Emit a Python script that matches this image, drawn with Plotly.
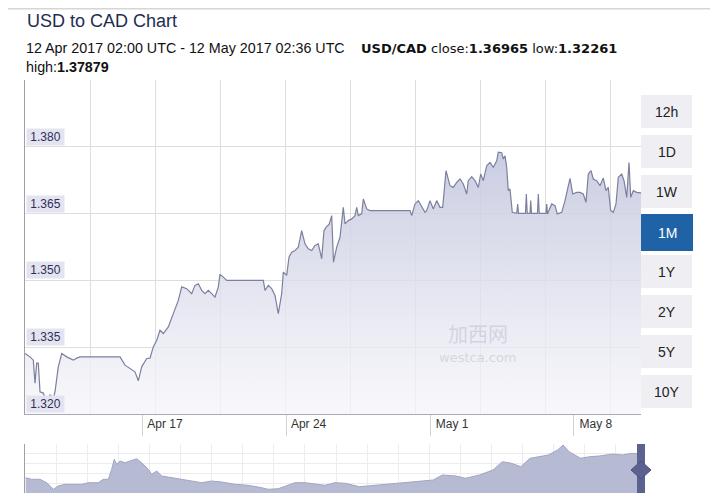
import pandas as pd
import plotly.graph_objects as go

# ---------------- data ----------------
START = pd.Timestamp("2017-04-12 02:00")
END = pd.Timestamp("2017-05-12 02:36")

hours = [0, 5.85, 9.71, 11.70, 13.69, 15.56, 17.55, 21.41, 25.39, 29.25,
         33.11, 35.09, 38.95, 42.93, 48.78, 56.50, 60.48, 64.34, 87.74, 111.13,
         116.98, 122.83, 128.68, 132.54, 136.52, 142.36, 146.23, 150.09, 154.06, 157.92,
         161.78, 167.63, 171.61, 175.47, 179.33, 183.31, 189.16, 195.01, 198.87, 202.73,
         206.71, 210.57, 214.43, 218.41, 222.26, 226.12, 228.11, 231.97, 235.95, 257.36,
         278.76, 280.75, 284.61, 288.59, 292.45, 296.31, 300.29, 302.16, 306.14, 308.83,
         311.99, 315.85, 319.71, 323.69, 327.55, 331.41, 335.39, 339.24, 343.10, 347.08,
         349.77, 352.70, 355.62, 358.78, 360.89, 364.63, 368.49, 372.35, 374.34, 378.20,
         382.18, 386.04, 388.03, 389.90, 393.88, 395.75, 399.73, 403.58, 426.98, 450.38,
         452.37, 456.23, 460.09, 464.07, 467.92, 469.91, 473.77, 477.63, 481.61, 485.47,
         488.63, 492.49, 497.17, 501.03, 505.01, 508.87, 512.73, 516.71, 518.58, 522.56,
         526.41, 530.28, 533.08, 536.13, 540.10, 543.96, 547.82, 551.80, 553.67, 557.65,
         559.52, 561.51, 563.50, 565.37, 567.36, 570.05, 575.20, 576.37, 577.30, 585.49,
         586.43, 587.48, 590.76, 591.58, 592.51, 599.53, 600.47, 601.52, 609.48, 610.30,
         611.24, 616.15, 620.01, 622.70, 627.85, 631.70, 634.39, 637.55, 640.71, 645.39,
         649.25, 653.11, 656.27, 658.96, 662.12, 664.81, 668.79, 672.64, 676.50, 679.66,
         682.35, 685.15, 688.20, 691.36, 694.05, 698.03, 700.72, 703.88, 706.57, 708.56,
         711.60, 715.58, 720.60]

rates = [1.33359, 1.33283, 1.33209, 1.32694, 1.33142, 1.33142, 1.32499, 1.32470, 1.32269, 1.32425,
         1.32358, 1.32499, 1.33059, 1.33359, 1.33283, 1.33209, 1.33254, 1.33283, 1.33283, 1.33283,
         1.33097, 1.33030, 1.32947, 1.32746, 1.33059, 1.33247, 1.33254, 1.33507, 1.33657, 1.33881,
         1.33807, 1.33954, 1.34143, 1.34328, 1.34552, 1.34854, 1.34814, 1.34702, 1.34888, 1.34926,
         1.34776, 1.34702, 1.34776, 1.34702, 1.34626, 1.34850, 1.35134, 1.35074, 1.35000, 1.35000,
         1.35000, 1.34776, 1.34888, 1.34814, 1.34664, 1.34254, 1.34702, 1.35186, 1.35112, 1.35522,
         1.35634, 1.35672, 1.35746, 1.36119, 1.35822, 1.35710, 1.35672, 1.35784, 1.35822, 1.35486,
         1.36119, 1.36209, 1.36254, 1.36455, 1.35410, 1.35746, 1.35969, 1.36641, 1.36269, 1.36343,
         1.36381, 1.36455, 1.36641, 1.36455, 1.36493, 1.36829, 1.36605, 1.36567, 1.36567, 1.36567,
         1.36455, 1.36717, 1.36791, 1.36641, 1.36529, 1.36567, 1.36791, 1.36605, 1.36791, 1.36641,
         1.36641, 1.37463, 1.37127, 1.37089, 1.37201, 1.37277, 1.37165, 1.36941, 1.37239, 1.37328,
         1.37239, 1.37089, 1.37389, 1.37239, 1.37575, 1.37649, 1.37537, 1.37687, 1.37877, 1.37866,
         1.37725, 1.37798, 1.37537, 1.37015, 1.37053, 1.36529, 1.36507, 1.36717, 1.36507, 1.36507,
         1.36941, 1.36507, 1.36507, 1.36791, 1.36507, 1.36507, 1.36941, 1.36507, 1.36507, 1.36717,
         1.36493, 1.36717, 1.36679, 1.36493, 1.36529, 1.36791, 1.37015, 1.37290, 1.36941, 1.36977,
         1.36977, 1.36941, 1.36753, 1.37389, 1.37463, 1.37277, 1.37239, 1.37127, 1.37299, 1.37015,
         1.37089, 1.36567, 1.36529, 1.36717, 1.37313, 1.37389, 1.37239, 1.36865, 1.37649, 1.36865,
         1.37015, 1.36977, 1.36965]

# navigator (longer history), days since the navigator start
nav_days = [0.6, 5.7, 12.9, 18.6, 24.3, 28.5, 34.3, 42.9, 48.6, 54.3,
            62.8, 67.1, 71.4, 74.3, 76.5, 78.6, 81.4, 85.7, 90.0, 95.7,
            100.0, 105.7, 108.6, 112.9, 117.2, 125.7, 134.3, 142.9, 151.5, 160.0,
            168.6, 180.0, 191.4, 202.9, 208.5, 217.1, 222.9, 231.4, 240.0, 248.6,
            257.1, 265.7, 274.8, 286.6, 302.5, 318.3, 334.0, 349.9, 357.8, 369.6,
            377.5, 389.4, 401.2, 409.1, 417.0, 424.9, 432.9, 440.7, 448.6, 456.5,
            461.2, 466.4, 476.2, 484.2, 492.1, 503.9, 511.9, 519.7, 525.6, 528.0]
nav_rates = [1.28683, 1.28194, 1.28194, 1.27153, 1.25133, 1.26143, 1.26663, 1.26663, 1.26663, 1.27153,
             1.27153, 1.28194, 1.28194, 1.31255, 1.34316, 1.32785, 1.33795, 1.33275, 1.33795, 1.34499,
             1.33275, 1.31255, 1.29724, 1.30734, 1.29204, 1.28683, 1.28194, 1.27673, 1.27153, 1.27673,
             1.27367, 1.26663, 1.26357, 1.25622, 1.25133, 1.25316, 1.26143, 1.27153, 1.27153, 1.26663,
             1.26357, 1.27153, 1.26969, 1.25928, 1.26449, 1.26969, 1.27459, 1.27979, 1.29510, 1.29204,
             1.28500, 1.29510, 1.31040, 1.33581, 1.33091, 1.32051, 1.34622, 1.35111, 1.35632, 1.37162,
             1.38693, 1.36642, 1.34622, 1.35111, 1.35326, 1.35938, 1.35632, 1.36152, 1.35938, 1.36000]

y_ticks = [1.320, 1.335, 1.350, 1.365, 1.380]
x_tick_dates = ["2017-04-17 20:00", "2017-04-24 20:00", "2017-05-01 20:00", "2017-05-08 20:00"]
x_tick_labels = ["Apr 17", "Apr 24", "May 1", "May 8"]
range_buttons = ["12h", "1D", "1W", "1M", "1Y", "2Y", "5Y", "10Y"]
selected_button = "1M"

title_text = "USD to CAD Chart"
period_text = "12 Apr 2017 02:00 UTC - 12 May 2017 02:36 UTC"
pair_text = "<b>USD/CAD</b> close:<b>1.36965</b> low:<b>1.32261</b>"
high_text = "high:<b>1.37879</b>"

# ---------------- layout helpers (page pixels -> paper) ----------------
OFF = 8                      # the page body margin
W, H = 718 - OFF, 502 - OFF
PLOT_L, PLOT_R, PLOT_T, NAV_B = 25, 641, 80, 493   # page pixels
ML = PLOT_L - OFF
MT = PLOT_T - OFF
MR = W - (PLOT_R - OFF)
MB = H - (NAV_B - OFF)
PW, PH = W - ML - MR, H - MT - MB


def px_x(px):
    return (px - PLOT_L) / PW


def px_y(py):
    return (NAV_B - py) / PH


FONT = "Liberation Sans, Arial, sans-serif"
times = START + pd.to_timedelta(hours, unit="h")

fig = go.Figure()

# main area
fig.add_trace(go.Scatter(
    x=times, y=rates, mode="lines",
    line=dict(color="#7c809f", width=1.2),
    fill="tozeroy",
    fillgradient=dict(type="vertical", start=1.320, stop=1.382,
                      colorscale=[[0, "rgba(246,246,250,0.75)"], [1, "rgba(192,195,220,0.88)"]]),
    hoverinfo="x+y", showlegend=False, xaxis="x", yaxis="y"))

# dummy trace to activate the vertical-grid overlay axis
fig.add_trace(go.Scatter(x=[None], y=[None], xaxis="x2", yaxis="y", showlegend=False,
                         hoverinfo="skip"))

# navigator
fig.add_trace(go.Scatter(
    x=nav_days, y=nav_rates, mode="lines",
    line=dict(color="#a2a6c2", width=1),
    fill="tozeroy", fillcolor="rgba(178,182,208,0.95)",
    hoverinfo="skip", showlegend=False, xaxis="x3", yaxis="y3"))

main_bottom = px_y(414)
nav_top = px_y(444)

fig.update_layout(
    width=W, height=H,
    margin=dict(l=ML, r=MR, t=MT, b=MB),
    paper_bgcolor="white", plot_bgcolor="white",
    font=dict(family=FONT, color="#333333", size=12),
    xaxis=dict(type="date", range=[START, END], domain=[0, 1], anchor="y",
               showgrid=False, zeroline=False,
               showline=True, linecolor="#a9a9b8", linewidth=1,
               ticks="outside", ticklen=21, tickcolor="#d3d3d3", tickwidth=1,
               tickvals=x_tick_dates, ticktext=x_tick_labels,
               ticklabelshift=22, ticklabelstandoff=-22,
               tickfont=dict(size=12, color="#333333", family=FONT)),
    xaxis2=dict(overlaying="x", anchor="y", range=[0, PW / 65.1], tick0=0, dtick=1,
                showgrid=True, gridcolor="#dedede", gridwidth=1, showticklabels=False,
                ticks="", zeroline=False, showline=False),
    yaxis=dict(range=[1.320, 1.395], domain=[main_bottom, 1], anchor="x",
               tick0=1.320, dtick=0.015, showgrid=True, gridcolor="#dedede",
               showticklabels=False, ticks="", zeroline=False,
               showline=True, linecolor="#a0a0a8", linewidth=1),
    xaxis3=dict(range=[0, 528], domain=[0, 1], anchor="y3", tick0=0, dtick=26.66,
                showgrid=True, gridcolor="#ececec", showticklabels=False, ticks="",
                zeroline=False, showline=False),
    yaxis3=dict(range=[1.24, 1.39], domain=[0, nav_top], anchor="x3", tick0=1.24, dtick=0.03,
                showgrid=True, gridcolor="#ececec", showticklabels=False, ticks="",
                zeroline=False, showline=True, linecolor="#a0a0a8", linewidth=1),
)

shapes = []
annotations = []

# top page rule
shapes.append(dict(type="line", xref="paper", yref="paper", x0=px_x(OFF), x1=px_x(718),
                   y0=px_y(OFF + 0.75), y1=px_y(OFF + 0.75), line=dict(color="#d6d6d6", width=1.5)))

# y labels in boxes above gridlines
for v in y_ticks:
    annotations.append(dict(x=0, xref="paper", y=v, yref="y", xanchor="left", yanchor="bottom",
                            xshift=1, yshift=1, text=f"{v:.3f}", showarrow=False,
                            bgcolor="#e4e4f1", width=35, height=14, borderpad=1,
                            font=dict(size=12, color="#2e2e55", family=FONT)))

# range buttons
for i, lab in enumerate(range_buttons):
    top = 95 + 40 * i
    bot = top + 33
    sel = lab == selected_button
    x0, x1 = 641, 692
    if sel:
        top, bot, x1 = top - 1, bot + 3, 693
    shapes.append(dict(type="rect", xref="paper", yref="paper",
                       x0=px_x(x0), x1=px_x(x1), y0=px_y(bot), y1=px_y(top),
                       fillcolor="#1f63a6" if sel else "#efeff3", line=dict(width=0)))
    annotations.append(dict(x=px_x((x0 + x1) / 2), y=px_y((top + bot) / 2),
                            xref="paper", yref="paper", text=lab, showarrow=False,
                            xanchor="center", yanchor="middle",
                            font=dict(size=14, color="white" if sel else "#222222", family=FONT)))

# navigator handle
shapes.append(dict(type="rect", xref="paper", yref="paper", x0=px_x(637), x1=px_x(645),
                   y0=px_y(493), y1=px_y(444), fillcolor="#5c628f", line=dict(width=0)))
cx, cy = px_x(641), px_y(470)
dx, dy = 10 / PW, 9 / PH
shapes.append(dict(type="path", xref="paper", yref="paper",
                   path=f"M {cx - dx} {cy} L {cx} {cy + dy} L {cx + dx} {cy} L {cx} {cy - dy} Z",
                   fillcolor="#5c628f", line=dict(color="#4d5380", width=1)))

# titles
annotations += [
    dict(x=px_x(25), y=px_y(OFF + 1), xref="paper", yref="paper", xanchor="left", yanchor="top",
         text=title_text, showarrow=False, font=dict(size=18, color="#1e2d4e", family=FONT)),
    dict(x=px_x(24), y=px_y(48), xref="paper", yref="paper", xanchor="left", yanchor="middle",
         text=period_text, showarrow=False, font=dict(size=14.3, color="#111111", family=FONT)),
    dict(x=px_x(359), y=px_y(48), xref="paper", yref="paper", xanchor="left", yanchor="middle",
         text=pair_text, showarrow=False, font=dict(size=13, color="#111111", family="DejaVu Sans")),
    dict(x=px_x(24), y=px_y(67), xref="paper", yref="paper", xanchor="left", yanchor="middle",
         text=high_text, showarrow=False, font=dict(size=14.3, color="#111111", family=FONT)),
    # faint watermark
    dict(x=px_x(478), y=px_y(333), xref="paper", yref="paper", xanchor="center", yanchor="middle",
         text="加西网", showarrow=False,
         font=dict(size=20, color="rgba(190,190,206,0.55)", family="Noto Sans CJK SC")),
    dict(x=px_x(478), y=px_y(358), xref="paper", yref="paper", xanchor="center", yanchor="middle",
         text="westca.com", showarrow=False,
         font=dict(size=13, color="rgba(190,190,206,0.55)", family="DejaVu Sans")),
]

fig.update_layout(shapes=shapes, annotations=annotations)
fig.write_html("out.html")
